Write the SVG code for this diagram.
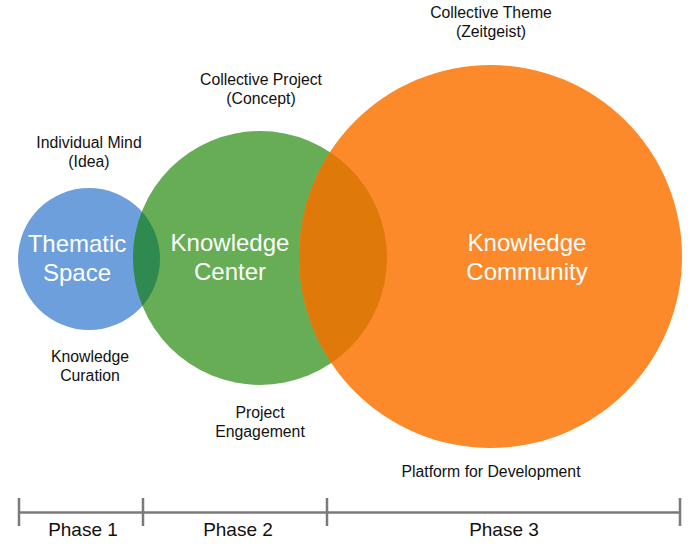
<svg xmlns="http://www.w3.org/2000/svg" width="700" height="546" viewBox="0 0 700 546">
<style>
.lbl{font-family:"Liberation Sans",Arial,sans-serif;font-size:15.8px;fill:#111;text-anchor:middle}
.big{font-family:"Liberation Sans",Arial,sans-serif;font-size:24px;fill:#fff;text-anchor:middle}
.ph{font-family:"Liberation Sans",Arial,sans-serif;font-size:19px;fill:#111;text-anchor:middle}
.tl{stroke:#7a7a7a;stroke-width:2.5;fill:none}
</style>
<defs>
<clipPath id="cGreen"><circle cx="260" cy="258" r="127"/></clipPath>
</defs>
<rect width="700" height="546" fill="#fff"/>
<g id="thematic-space">
<circle cx="89" cy="259" r="71" fill="#6d9fdc"/>
</g>
<g id="knowledge-center">
<circle cx="260" cy="258" r="127" fill="#66ad55"/>
<circle cx="89" cy="259" r="71" fill="#2e8a4e" clip-path="url(#cGreen)"/>
</g>
<g id="knowledge-community">
<circle cx="490.5" cy="256.5" r="191.5" fill="#fc8a2a"/>
<circle cx="490.5" cy="256.5" r="191.5" fill="#df7a0a" clip-path="url(#cGreen)"/>
</g>
<g id="labels">
<text class="big" x="77" y="252">Thematic</text>
<text class="big" x="77" y="281">Space</text>
<text class="big" x="230" y="251">Knowledge</text>
<text class="big" x="230" y="280">Center</text>
<text class="big" x="527" y="251">Knowledge</text>
<text class="big" x="527" y="280">Community</text>
<text class="lbl" x="89" y="148">Individual Mind</text>
<text class="lbl" x="89" y="167">(Idea)</text>
<text class="lbl" x="261" y="85">Collective Project</text>
<text class="lbl" x="261" y="104">(Concept)</text>
<text class="lbl" x="491" y="18">Collective Theme</text>
<text class="lbl" x="491" y="37">(Zeitgeist)</text>
<text class="lbl" x="90" y="362">Knowledge</text>
<text class="lbl" x="90" y="381">Curation</text>
<text class="lbl" x="260" y="418">Project</text>
<text class="lbl" x="260" y="437">Engagement</text>
<text class="lbl" x="491" y="477">Platform for Development</text>
</g>
<g id="connectors">
<line class="tl" x1="19" y1="512.5" x2="680" y2="512.5"/>
<line class="tl" x1="19" y1="498" x2="19" y2="526"/>
<line class="tl" x1="143" y1="498" x2="143" y2="526"/>
<line class="tl" x1="327" y1="498" x2="327" y2="526"/>
<line class="tl" x1="680" y1="498" x2="680" y2="526"/>
</g>
<g id="phases">
<text class="ph" x="83" y="536">Phase 1</text>
<text class="ph" x="238" y="536">Phase 2</text>
<text class="ph" x="504" y="536">Phase 3</text>
</g>
</svg>
